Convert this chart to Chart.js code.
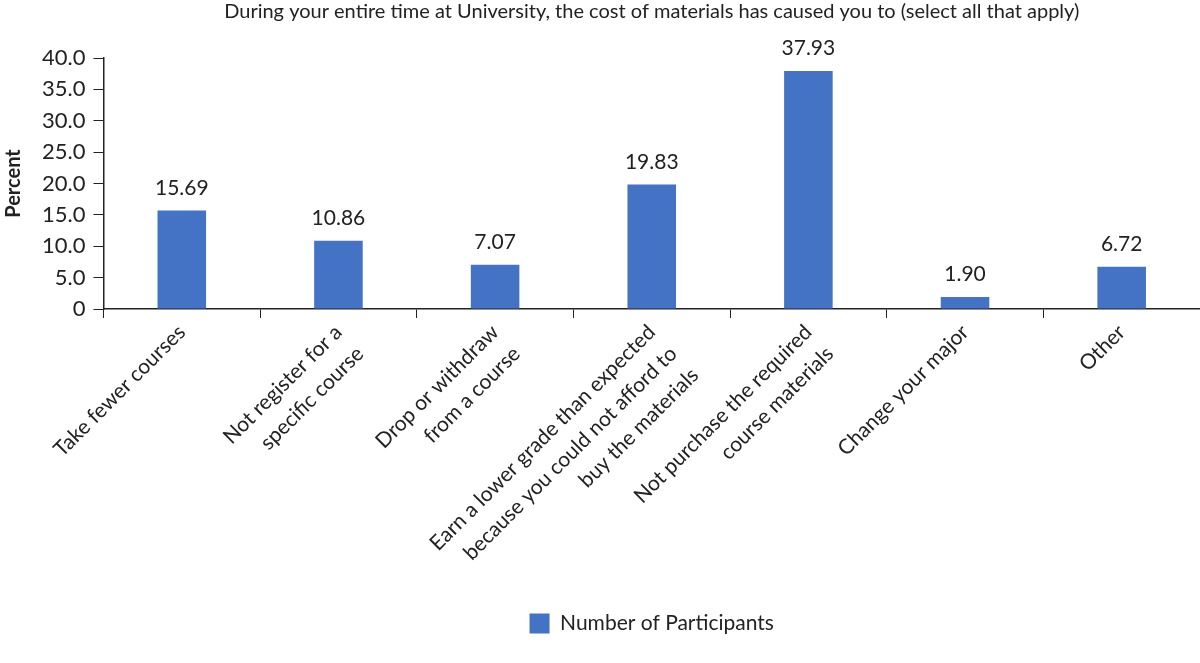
<!DOCTYPE html>
<html>
<head>
<meta charset="utf-8">
<script src="https://cdn.jsdelivr.net/npm/chart.js@4/dist/chart.umd.min.js"></script>
<style>
    html, body { margin: 0; padding: 0; background: #fff; }
    #wrap { width: 1200px; height: 663px; position: relative; }
</style>
</head>
<body>
<div id="wrap"><canvas id="chart"></canvas></div>
<script>
// Chart data
const categories = [
    ['Take fewer courses'],
    ['Not register for a', 'specific course'],
    ['Drop or withdraw', 'from a course'],
    ['Earn a lower grade than expected', 'because you could not afford to', 'buy the materials'],
    ['Not purchase the required', 'course materials'],
    ['Change your major'],
    ['Other']
];
const percentValues = [15.69, 10.86, 7.07, 19.83, 37.93, 1.90, 6.72];
const yTicks = [0, 5, 10, 15, 20, 25, 30, 35, 40];

const seriesName = 'Number of Participants';
const chartTitle = 'During your entire time at University, the cost of materials has caused you to (select all that apply)';

const FONT = 'Lato, "Open Sans", sans-serif';
const TEXT = '#222';

// Draw value labels above each bar
const valueLabels = {
    id: 'valueLabels',
    afterDatasetsDraw(chart) {
        const ctx = chart.ctx;
        const meta = chart.getDatasetMeta(0);
        ctx.save();
        ctx.font = '21px ' + FONT;
        ctx.fillStyle = TEXT;
        ctx.textAlign = 'center';
        ctx.textBaseline = 'bottom';
        meta.data.forEach(function(bar, i) {
            ctx.fillText(percentValues[i].toFixed(2), bar.x, bar.y - 12);
        });
        ctx.restore();
    }
};

const ctx = document.getElementById('chart').getContext('2d');
new Chart(ctx, {
    type: 'bar',
    data: {
        labels: categories,
        datasets: [{
            label: seriesName,
            data: percentValues,
            backgroundColor: '#4472C4',
            borderWidth: 0,
            barPercentage: 0.31,
            categoryPercentage: 1
        }]
    },
    options: {
        responsive: true,
        maintainAspectRatio: false,
        animation: false,
        layout: { padding: { left: 2, right: 0, top: 0, bottom: 19 } },
        scales: {
            x: {
                offset: true,
                grid: {
                    offset: true,
                    drawOnChartArea: false,
                    drawTicks: true,
                    tickLength: 9,
                    color: '#222'
                },
                border: { color: '#222', width: 1.5 },
                ticks: {
                    minRotation: 45,
                    maxRotation: 45,
                    autoSkip: false,
                    color: TEXT,
                    font: { family: FONT, size: 21, lineHeight: 1.45 },
                    padding: 0
                },
                afterFit(scale) {
                    scale.height = 292;
                }
            },
            y: {
                min: 0,
                max: 40,
                afterBuildTicks(scale) {
                    scale.ticks = yTicks.map(v => ({ value: v }));
                },
                grid: {
                    drawOnChartArea: false,
                    drawTicks: true,
                    tickLength: 10,
                    color: '#222'
                },
                border: { color: '#222', width: 1.5 },
                ticks: {
                    color: TEXT,
                    font: { family: FONT, size: 22 },
                    padding: 8,
                    callback: v => v === 0 ? '0' : v.toFixed(1)
                },
                title: {
                    display: true,
                    text: 'Percent',
                    color: TEXT,
                    font: { family: FONT, size: 20, weight: 'bold' },
                    padding: { top: 0, bottom: 8 }
                }
            }
        },
        plugins: {
            title: {
                display: true,
                text: chartTitle,
                fullSize: false,
                color: TEXT,
                font: { family: FONT, size: 20, weight: 'normal' },
                padding: { top: 0, bottom: 34 }
            },
            legend: {
                position: 'bottom',
                fullSize: false,
                labels: {
                    color: TEXT,
                    font: { family: FONT, size: 21 },
                    boxWidth: 20,
                    boxHeight: 20,
                    padding: 12
                }
            },
            tooltip: { enabled: false }
        }
    },
    plugins: [valueLabels]
});
</script>
</body>
</html>
